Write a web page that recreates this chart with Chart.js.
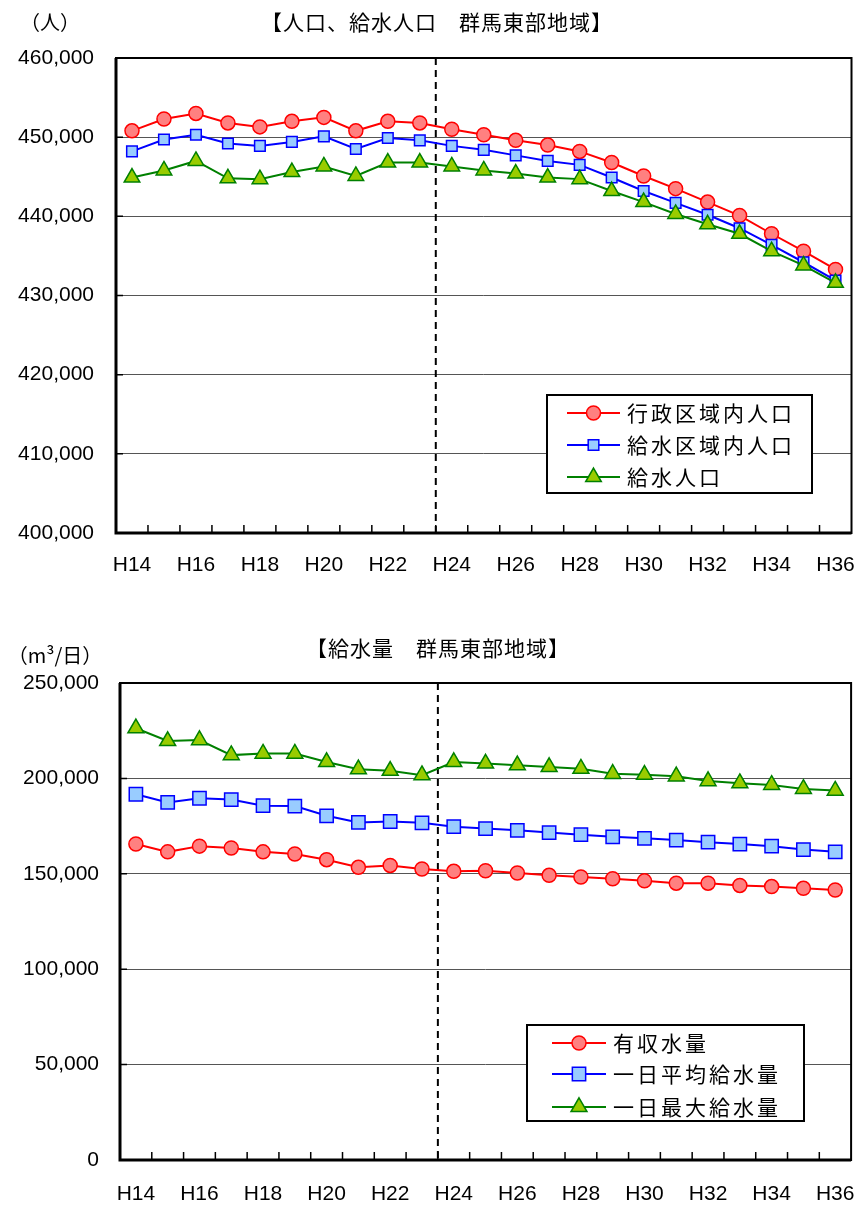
<!DOCTYPE html>
<html>
<head>
<meta charset="utf-8">
<script src="https://cdn.jsdelivr.net/npm/chart.js@4.4.0/dist/chart.umd.min.js"></script>
<style>
body { margin: 0; background: #fff; }
#wrap { position: relative; width: 862px; height: 1207px; }
canvas { position: absolute; left: 0; }
</style>
</head>
<body>
<div id="wrap">
  <canvas id="popChart" width="862" height="600" style="top:0"></canvas>
  <canvas id="waterChart" width="862" height="607" style="top:600px"></canvas>
</div>
<script>
const years = ['H14', 'H15', 'H16', 'H17', 'H18', 'H19', 'H20', 'H21', 'H22', 'H23', 'H24', 'H25',
  'H26', 'H27', 'H28', 'H29', 'H30', 'H31', 'H32', 'H33', 'H34', 'H35', 'H36'];

// 人口 (人)
const adminPop = [450800, 452300, 453000, 451800, 451300, 452000, 452500, 450800, 452000, 451800, 451000, 450300,
  449600, 449000, 448200, 446800, 445100, 443500, 441800, 440100, 437800, 435600, 433300];
const areaPop = [448200, 449700, 450300, 449200, 448900, 449400, 450100, 448500, 449900, 449600, 448900, 448400,
  447700, 447000, 446500, 444900, 443200, 441700, 440200, 438500, 436400, 434200, 431900];
const servedPop = [444900, 445800, 447000, 444800, 444700, 445600, 446300, 445100, 446800, 446800, 446300, 445800,
  445400, 444900, 444700, 443200, 441800, 440300, 439000, 437800, 435600, 433800, 431600];

// 給水量 (m3/日)
const billedWater = [165600, 161500, 164500, 163500, 161500, 160400, 157400, 153400, 154400, 152500, 151300, 151600,
  150400, 149200, 148300, 147400, 146300, 145100, 145100, 143900, 143300, 142400, 141500];
const avgWater = [191700, 187400, 189600, 188900, 185700, 185500, 180400, 176900, 177400, 176700, 174700, 173700,
  172800, 171600, 170500, 169400, 168600, 167700, 166600, 165600, 164500, 162700, 161500];
const maxWater = [226300, 219600, 220100, 212200, 213000, 213000, 208600, 204800, 204000, 201700, 208600, 207800,
  206900, 206000, 205100, 202400, 201900, 201100, 198600, 197500, 196600, 194500, 193600];

const popTicks = { min: 400000, max: 460000, step: 10000 };
const waterTicks = { min: 0, max: 250000, step: 50000 };
const splitYear = 'H24';

const numFont = { family: '"Liberation Sans", Arial, sans-serif', size: 21 };
const cjkFont = '"Noto Sans CJK JP", "Noto Sans", sans-serif';

const lineSet = (label, data, color, fill, style, radius, order) => ({
  label, data, order,
  borderColor: color, backgroundColor: fill, borderWidth: 2,
  pointStyle: style, pointRadius: radius, pointHoverRadius: radius,
  pointBackgroundColor: fill, pointBorderColor: color, pointBorderWidth: 1.5,
  tension: 0
});

const drawMarker = (ctx, ds, x, y, r) => {
  ctx.save();
  ctx.fillStyle = ds.pointBackgroundColor;
  ctx.strokeStyle = ds.pointBorderColor;
  ctx.lineWidth = ds.pointBorderWidth;
  ctx.beginPath();
  if (ds.pointStyle === 'circle') {
    ctx.arc(x, y, r, 0, Math.PI * 2);
  } else if (ds.pointStyle === 'rect') {
    const s = r * Math.SQRT1_2;
    ctx.rect(x - s, y - s, 2 * s, 2 * s);
  } else {
    const h = r * Math.sin(Math.PI * 2 / 3);
    ctx.moveTo(x, y - r);
    ctx.lineTo(x + h, y + r / 2);
    ctx.lineTo(x - h, y + r / 2);
  }
  ctx.closePath();
  ctx.fill();
  ctx.stroke();
  ctx.restore();
};

const decor = {
  id: 'decor',
  beforeDatasetsDraw(chart, args, opts) {
    const { ctx, chartArea: a, scales: { x } } = chart;
    const i = years.indexOf(splitYear);
    const xd = (x.getPixelForValue(i - 1) + x.getPixelForValue(i)) / 2;
    ctx.save();
    ctx.strokeStyle = '#000';
    ctx.lineWidth = 2;
    ctx.setLineDash([7, 5]);
    ctx.beginPath();
    ctx.moveTo(xd, a.top);
    ctx.lineTo(xd, a.bottom);
    ctx.stroke();
    ctx.restore();
  },
  afterDraw(chart, args, opts) {
    const { ctx, chartArea: a, scales: { x, y } } = chart;
    ctx.save();
    // frame
    ctx.strokeStyle = '#000';
    ctx.lineWidth = 2;
    ctx.strokeRect(a.left, a.top, a.right - a.left, a.bottom - a.top);
    ctx.lineWidth = 3;
    ctx.beginPath();
    ctx.moveTo(a.left, a.top);
    ctx.lineTo(a.left, a.bottom);
    ctx.lineTo(a.right, a.bottom);
    ctx.stroke();
    // inside tick marks
    ctx.lineWidth = 1.5;
    ctx.beginPath();
    y.ticks.forEach(t => {
      const py = y.getPixelForValue(t.value);
      ctx.moveTo(a.left, py);
      ctx.lineTo(a.left + 7, py);
    });
    for (let i = 1; i < years.length; i++) {
      const px = (x.getPixelForValue(i - 1) + x.getPixelForValue(i)) / 2;
      ctx.moveTo(px, a.bottom);
      ctx.lineTo(px, a.bottom - 8);
    }
    ctx.stroke();

    // title and unit
    ctx.fillStyle = '#000';
    ctx.textBaseline = 'middle';
    ctx.textAlign = 'center';
    ctx.font = '21px ' + cjkFont;
    ctx.letterSpacing = '1px';
    ctx.fillText(opts.title, opts.titleX, opts.titleY);
    ctx.font = '20px ' + cjkFont;
    ctx.letterSpacing = '0px';
    ctx.fillText(opts.unit, opts.unitX, opts.unitY);

    // legend
    const lg = opts.legend;
    ctx.fillStyle = '#fff';
    ctx.fillRect(lg.x, lg.y, lg.w, lg.h);
    ctx.strokeStyle = '#000';
    ctx.lineWidth = 2;
    ctx.strokeRect(lg.x, lg.y, lg.w, lg.h);
    ctx.textAlign = 'left';
    ctx.font = '21px ' + cjkFont;
    ctx.letterSpacing = '3px';
    chart.data.datasets.forEach((ds, i) => {
      const ry = lg.rows[i];
      ctx.strokeStyle = ds.borderColor;
      ctx.lineWidth = 2;
      ctx.beginPath();
      ctx.moveTo(lg.x1, ry);
      ctx.lineTo(lg.x2, ry);
      ctx.stroke();
      drawMarker(ctx, ds, (lg.x1 + lg.x2) / 2, ry, lg.radii[i]);
      ctx.fillStyle = '#000';
      ctx.fillText(ds.label, lg.textX, ry);
    });
    ctx.restore();
  }
};

const makeChart = (id, datasets, range, deco, box) => new Chart(document.getElementById(id), {
  type: 'line',
  data: { labels: years, datasets },
  plugins: [decor],
  options: {
    responsive: false,
    animation: false,
    events: [],
    layout: { padding: { top: box.top, right: box.right, left: 0, bottom: 0 } },
    plugins: {
      legend: { display: false },
      tooltip: { enabled: false },
      decor: deco
    },
    scales: {
      x: {
        type: 'category',
        offset: true,
        grid: { display: false, drawTicks: false },
        border: { display: false },
        ticks: {
          autoSkip: false, maxRotation: 0, minRotation: 0, padding: box.xPad,
          color: '#000', font: numFont,
          callback: (v, i) => (i % 2 === 0 ? years[i] : '')
        },
        afterFit: s => {
          s.height = box.xHeight;
          s.paddingLeft = 0;
          s.paddingRight = 0;
        }
      },
      y: {
        min: range.min, max: range.max,
        grid: { color: '#555', lineWidth: 1, drawTicks: false },
        border: { display: false },
        ticks: {
          stepSize: range.step, padding: box.yPad, color: '#000', font: numFont,
          callback: v => v.toLocaleString('en-US')
        },
        afterFit: s => { s.width = box.yWidth; }
      }
    }
  }
});

makeChart('popChart', [
  lineSet('行政区域内人口', adminPop, '#FF0000', '#FF8080', 'circle', 7, 3),
  lineSet('給水区域内人口', areaPop, '#0000FF', '#99CCFF', 'rect', 7.5, 2),
  lineSet('給水人口', servedPop, '#008000', '#99CC00', 'triangle', 9, 1)
], popTicks, {
  title: '【人口、給水人口　群馬東部地域】', titleX: 437, titleY: 22,
  unit: '（人）', unitX: 50, unitY: 22,
  legend: { x: 547, y: 395, w: 265, h: 98, rows: [413, 445, 477], x1: 567, x2: 620, textX: 627, radii: [7, 7.5, 9] }
}, { top: 58, right: 2, xPad: 20, xHeight: 67, yPad: 22, yWidth: 116 });

makeChart('waterChart', [
  lineSet('有収水量', billedWater, '#FF0000', '#FF8080', 'circle', 7, 3),
  lineSet('一日平均給水量', avgWater, '#0000FF', '#99CCFF', 'rect', 9.4, 2),
  lineSet('一日最大給水量', maxWater, '#008000', '#99CC00', 'triangle', 9.2, 1)
], waterTicks, {
  title: '【給水量　群馬東部地域】', titleX: 438, titleY: 48,
  unit: '（m³/日）', unitX: 55, unitY: 55,
  legend: { x: 527, y: 425, w: 277, h: 96, rows: [443, 474, 507], x1: 552, x2: 606, textX: 613, radii: [7, 9.4, 9.2] }
}, { top: 83, right: 4, xPad: 22, xHeight: 47, yPad: 21, yWidth: 120 });
</script>
</body>
</html>
